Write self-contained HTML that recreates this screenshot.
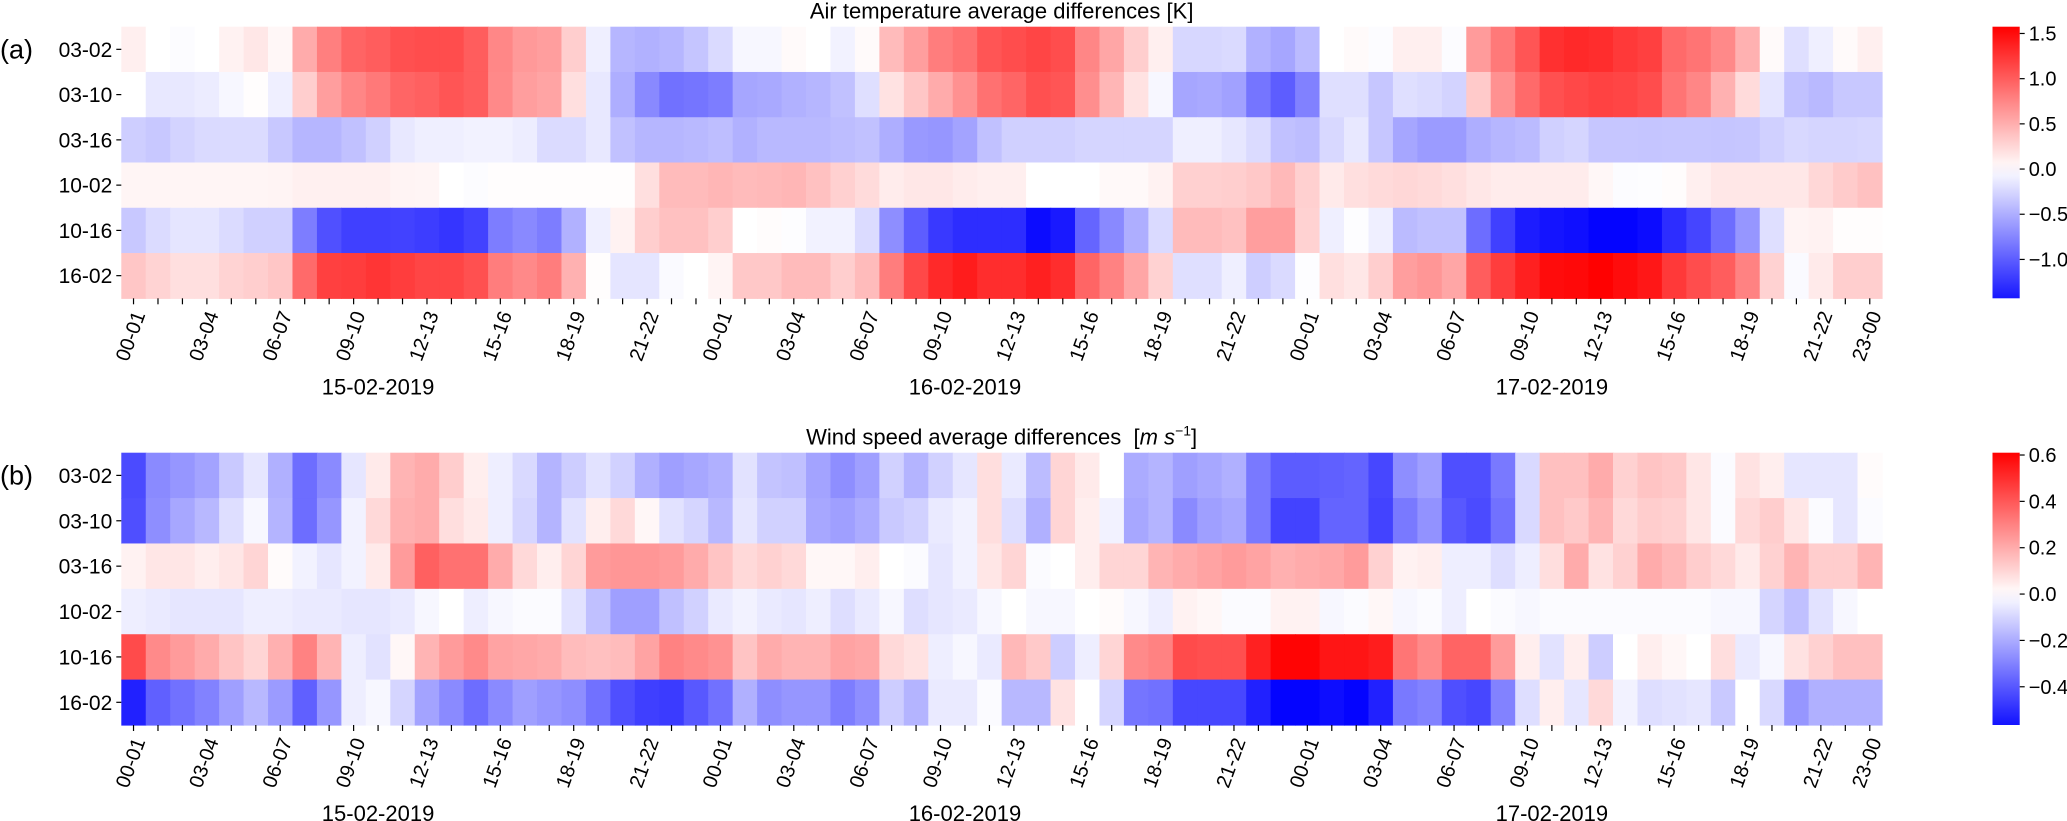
<!DOCTYPE html>
<html><head><meta charset="utf-8"><style>
html,body{margin:0;padding:0;background:#fff;}
svg{display:block;font-family:"Liberation Sans",Arial,sans-serif;}
</style></head><body>
<svg id="chart" width="2067" height="821" viewBox="0 0 2067 821" xmlns="http://www.w3.org/2000/svg">
<defs>
<linearGradient id="gradA" x1="0" y1="1" x2="0" y2="0"></linearGradient>
<linearGradient id="gradB" x1="0" y1="1" x2="0" y2="0"></linearGradient>
</defs>
</svg>
<script>
const rowLabels = ["03-02","03-10","03-16","10-02","10-16","16-02"];
const dayLabels = ["15-02-2019","16-02-2019","17-02-2019"];
const tickColsMajor = [0,3,6,9,12,15,18,21,24,27,30,33,36,39,42,45,48,51,54,57,60,63,66,69,71];
const tempTicks = [1.5,1.0,0.5,0.0,-0.5,-1.0];
const windTicks = [0.6,0.4,0.2,0.0,-0.2,-0.4];

const temp_0302 = [0.1,0,-0.02,0,0.08,0.15,0.05,0.52,0.79,0.96,1.0,1.08,1.1,1.1,1.0,0.74,0.63,0.6,0.3,-0.1,-0.45,-0.48,-0.45,-0.36,-0.23,-0.05,-0.05,0.03,0,-0.08,0.03,0.42,0.6,0.8,0.88,1.05,1.1,1.15,1.1,0.75,0.55,0.3,0.1,-0.25,-0.25,-0.23,-0.48,-0.55,-0.42,0,0.03,-0.02,0.1,0.1,-0.02,0.62,0.83,1.05,1.28,1.32,1.3,1.22,1.18,0.92,0.86,0.73,0.48,0.03,-0.2,-0.1,0.03,0.1];
const temp_0310 = [0,-0.14,-0.14,-0.12,-0.05,0.01,-0.1,0.3,0.6,0.75,0.83,0.95,0.98,1.05,1.0,0.73,0.6,0.56,0.2,-0.14,-0.5,-0.73,-0.88,-0.85,-0.8,-0.55,-0.53,-0.48,-0.45,-0.38,-0.2,0.18,0.35,0.52,0.68,0.88,0.95,1.08,1.05,0.7,0.45,0.18,-0.05,-0.55,-0.53,-0.58,-0.85,-1.0,-0.78,-0.2,-0.2,-0.35,-0.2,-0.22,-0.27,0.33,0.68,0.92,1.08,1.13,1.17,1.15,1.1,0.86,0.75,0.48,0.22,-0.16,-0.38,-0.43,-0.34,-0.34];
const temp_0316 = [-0.3,-0.34,-0.27,-0.23,-0.22,-0.22,-0.34,-0.45,-0.45,-0.38,-0.29,-0.14,-0.1,-0.1,-0.08,-0.08,-0.11,-0.22,-0.22,-0.14,-0.38,-0.45,-0.45,-0.43,-0.4,-0.48,-0.43,-0.43,-0.43,-0.41,-0.38,-0.5,-0.63,-0.65,-0.57,-0.38,-0.29,-0.29,-0.29,-0.26,-0.26,-0.26,-0.26,-0.1,-0.1,-0.15,-0.22,-0.38,-0.41,-0.24,-0.14,-0.35,-0.55,-0.62,-0.62,-0.5,-0.45,-0.42,-0.29,-0.26,-0.35,-0.35,-0.36,-0.35,-0.35,-0.36,-0.35,-0.29,-0.24,-0.26,-0.26,-0.25];
const temp_1002 = [0.06,0.06,0.06,0.06,0.06,0.06,0.07,0.09,0.09,0.09,0.09,0.07,0.06,0,-0.02,0.01,0.01,0.01,0.01,0.01,0.01,0.2,0.42,0.42,0.45,0.42,0.43,0.45,0.38,0.29,0.22,0.12,0.15,0.15,0.12,0.1,0.1,0,0,0,0.04,0.04,0.08,0.29,0.29,0.3,0.34,0.43,0.29,0.13,0.2,0.23,0.25,0.23,0.2,0.15,0.12,0.12,0.12,0.12,0.05,-0.02,-0.01,0.02,0.1,0.15,0.15,0.15,0.15,0.25,0.32,0.38];
const temp_1016 = [-0.34,-0.22,-0.16,-0.16,-0.22,-0.29,-0.29,-0.8,-1.08,-1.18,-1.18,-1.17,-1.2,-1.25,-1.17,-0.8,-0.73,-0.8,-0.48,-0.1,0.08,0.3,0.38,0.38,0.3,0,0.02,-0.01,-0.08,-0.08,-0.22,-0.7,-1.0,-1.22,-1.3,-1.3,-1.3,-1.5,-1.42,-0.95,-0.73,-0.5,-0.23,0.42,0.42,0.38,0.6,0.6,0.28,-0.1,-0.01,-0.1,-0.42,-0.38,-0.38,-0.9,-1.18,-1.4,-1.45,-1.48,-1.55,-1.55,-1.5,-1.3,-1.15,-0.9,-0.65,-0.2,0.07,0.08,0.01,0.01];
const temp_1602 = [0.35,0.27,0.2,0.2,0.27,0.3,0.35,0.92,1.18,1.2,1.25,1.2,1.15,1.15,1.08,0.8,0.73,0.8,0.48,0.01,-0.16,-0.16,-0.03,0,0.07,0.34,0.34,0.42,0.42,0.3,0.42,0.8,1.13,1.32,1.4,1.3,1.3,1.38,1.3,0.95,0.77,0.55,0.28,-0.2,-0.2,-0.1,-0.3,-0.23,-0.01,0.2,0.15,0.3,0.6,0.65,0.55,1.0,1.2,1.38,1.5,1.52,1.57,1.5,1.43,1.22,1.1,1.0,0.77,0.28,-0.03,0.13,0.3,0.3];

const wind_0302 = [-0.43,-0.28,-0.25,-0.22,-0.13,-0.06,-0.19,-0.35,-0.28,-0.06,0.05,0.18,0.2,0.12,0.04,-0.04,-0.09,-0.18,-0.12,-0.07,-0.11,-0.19,-0.23,-0.21,-0.19,-0.07,-0.14,-0.15,-0.22,-0.27,-0.23,-0.11,-0.18,-0.11,-0.06,0.08,-0.05,-0.16,0.1,0.05,0,-0.2,-0.18,-0.23,-0.21,-0.19,-0.32,-0.39,-0.39,-0.38,-0.37,-0.44,-0.27,-0.23,-0.42,-0.42,-0.32,-0.09,0.15,0.15,0.2,0.11,0.14,0.13,0.06,-0.01,0.07,0.04,-0.06,-0.06,-0.06,0.01];
const wind_0310 = [-0.42,-0.27,-0.21,-0.17,-0.08,-0.02,-0.18,-0.35,-0.25,-0.03,0.09,0.19,0.2,0.08,0.05,-0.04,-0.1,-0.18,-0.07,0.04,0.09,0.02,-0.07,-0.1,-0.17,-0.06,-0.11,-0.11,-0.21,-0.23,-0.2,-0.13,-0.11,-0.05,-0.03,0.08,-0.08,-0.19,0.1,0.04,-0.03,-0.21,-0.18,-0.28,-0.23,-0.21,-0.32,-0.45,-0.45,-0.37,-0.37,-0.45,-0.32,-0.26,-0.4,-0.43,-0.34,-0.09,0.15,0.13,0.18,0.09,0.12,0.11,0.06,-0.01,0.09,0.12,0.06,-0.01,-0.06,-0.01];
const wind_0316 = [0.03,0.06,0.06,0.04,0.06,0.1,0.01,-0.03,-0.06,-0.03,0.05,0.24,0.38,0.34,0.34,0.2,0.09,0.04,0.1,0.24,0.25,0.25,0.24,0.2,0.14,0.09,0.11,0.09,0.02,0.02,0.04,0,-0.01,-0.06,-0.03,0.06,0.1,-0.01,0,0.04,0.1,0.1,0.18,0.2,0.22,0.24,0.22,0.19,0.2,0.21,0.24,0.11,0.03,0.04,-0.04,-0.04,-0.08,-0.04,0.08,0.2,0.07,0.11,0.2,0.17,0.12,0.09,0.05,0.11,0.18,0.12,0.12,0.18];
const wind_1002 = [-0.04,-0.05,-0.06,-0.06,-0.06,-0.04,-0.04,-0.05,-0.05,-0.06,-0.06,-0.05,-0.02,0,-0.04,-0.02,-0.01,-0.01,-0.07,-0.15,-0.23,-0.23,-0.15,-0.11,-0.05,-0.03,-0.05,-0.06,-0.04,-0.08,-0.05,-0.02,-0.08,-0.06,-0.05,-0.02,0,-0.02,-0.02,0,0.01,-0.02,-0.04,0.03,0.02,-0.01,-0.01,0.03,0.03,-0.02,-0.01,0.02,-0.02,-0.01,-0.04,0,-0.01,-0.02,-0.01,-0.01,-0.01,-0.01,-0.01,-0.01,-0.01,-0.02,-0.02,-0.1,-0.15,-0.07,-0.02,0];
const wind_1016 = [0.43,0.28,0.24,0.2,0.14,0.1,0.19,0.3,0.18,-0.04,-0.07,0.02,0.18,0.24,0.28,0.22,0.21,0.2,0.16,0.15,0.16,0.22,0.3,0.28,0.26,0.14,0.2,0.18,0.18,0.22,0.21,0.09,0.07,-0.04,-0.02,-0.05,0.17,0.13,-0.12,-0.04,0.1,0.28,0.3,0.43,0.42,0.42,0.53,0.6,0.6,0.56,0.56,0.54,0.33,0.28,0.37,0.37,0.24,0.04,-0.07,0.04,-0.12,0,0.04,0.02,0,0.08,-0.05,-0.02,0.07,0.11,0.15,0.15];
const wind_1602 = [-0.53,-0.38,-0.34,-0.3,-0.23,-0.17,-0.24,-0.38,-0.25,-0.04,-0.02,-0.1,-0.22,-0.28,-0.35,-0.28,-0.23,-0.25,-0.27,-0.34,-0.42,-0.46,-0.47,-0.4,-0.34,-0.19,-0.27,-0.25,-0.25,-0.31,-0.27,-0.12,-0.18,-0.05,-0.05,-0.01,-0.17,-0.17,0.07,0,-0.1,-0.33,-0.34,-0.44,-0.44,-0.44,-0.53,-0.6,-0.6,-0.58,-0.6,-0.53,-0.32,-0.3,-0.42,-0.44,-0.3,-0.08,0.04,-0.06,0.09,-0.03,-0.08,-0.07,-0.06,-0.13,0,-0.09,-0.25,-0.19,-0.19,-0.19];

const tempRows = [temp_0302,temp_0310,temp_0316,temp_1002,temp_1016,temp_1602];
const windRows = [wind_0302,wind_0310,wind_0316,wind_1002,wind_1016,wind_1602];

const NS = "http://www.w3.org/2000/svg";
const svg = document.getElementById('chart');
function mk(tag, attrs, parent){ const e=document.createElementNS(NS,tag); for(const k in attrs) e.setAttribute(k,attrs[k]); (parent||svg).appendChild(e); return e; }
function bwr(t){ t=Math.max(0,Math.min(1,t)); let r,g,b; if(t<0.5){const s=t*2; r=s; g=s; b=1;} else {const s=(1-t)*2; r=1; g=s; b=s;} return `rgb(${Math.round(r*255)},${Math.round(g*255)},${Math.round(b*255)})`; }

const X0 = 121.3, X1 = 1882, NC = 72;
const colW = (X1-X0)/NC;
function xCol(i){ return X0 + i*colW; }
function pad(n){ return (n<10?'0':'')+n; }

function panel(cfg){
  const g = mk('g',{});
  
  
  const top=cfg.top, bot=cfg.bot, rh=(bot-top)/6;
  const yRow = r => top + r*rh;
  // title
  const t = mk('text',{x:(X0+X1)/2, y:top-8, 'font-size':22, 'text-anchor':'middle', fill:'#000'}, g);
  
  
  t.innerHTML = cfg.title;
  // panel letter
  const pl = mk('text',{x:0, y:yRow(0)+rh/2+9, 'font-size':27, fill:'#000'}, g);
  
  
  pl.textContent = cfg.letter;
  // cells
  const cells = mk('g',{}, g);
  
  
  cfg.rows.forEach((row, r)=>{
    row.forEach((v, c)=>{
      const rect = mk('rect',{x:xCol(c).toFixed(2), y:yRow(r).toFixed(2), width:(colW+0.6).toFixed(2), height:(rh+0.6).toFixed(2), fill:bwr((v+cfg.V)/(2*cfg.V))}, cells);
      
      
    });
  });
  // row labels & ticks
  rowLabels.forEach((lab, r)=>{
    const cy = yRow(r)+rh/2;
    const tk = mk('line',{x1:X0-5, x2:X0, y1:cy, y2:cy, stroke:'#000','stroke-width':1.2}, g);
    
    
    const tx = mk('text',{x:X0-9, y:cy+7.5, 'font-size':21, 'text-anchor':'end', fill:'#000'}, g);
    
    
    tx.textContent = lab;
  });
  // x ticks (every column)
  for(let c=0;c<NC;c++){
    const cx = xCol(c)+colW/2;
    const tk = mk('line',{x1:cx, x2:cx, y1:bot, y2:bot+6, stroke:'#000','stroke-width':1.2}, g);
    
    
  }
  tickColsMajor.forEach(c=>{
    const cx = xCol(c)+colW/2;
    const h = c%24;
    const ex = cx+12, ey = bot+16;
    const tx = mk('text',{x:ex, y:ey, 'font-size':20, 'text-anchor':'end', fill:'#000', transform:`rotate(-70 ${ex} ${ey})`}, g);
    
    
    tx.textContent = pad(h)+'-'+pad((h+1)%24);
  });
  // day labels
  dayLabels.forEach((d,i)=>{
    const cx = xCol(10.5+24*i);
    const tx = mk('text',{x:cx, y:bot+96, 'font-size':22, 'text-anchor':'middle', fill:'#000'}, g);
    
    
    tx.textContent = d;
  });
  // colorbar
  const cbx0=1992.5, cbx1=2019.7;
  const grad = document.getElementById(cfg.grad);
  for(let k=0;k<=20;k++){
    const v = cfg.vmin + (cfg.vmax-cfg.vmin)*k/20;
    mk('stop',{offset:(k/20), 'stop-color':bwr((v+cfg.V)/(2*cfg.V))}, grad);
  }
  const cb = mk('rect',{x:cbx0, y:top, width:cbx1-cbx0, height:bot-top, fill:`url(#${cfg.grad})`}, g);
  
  
  const yv = v => bot - (v-cfg.vmin)/(cfg.vmax-cfg.vmin)*(bot-top);
  cfg.ticks.forEach(v=>{
    const y = yv(v);
    const tk = mk('line',{x1:cbx1, x2:cbx1+5, y1:y, y2:y, stroke:'#000','stroke-width':1.2}, g);
    
    
    const tx = mk('text',{x:cbx1+9, y:y+7, 'font-size':20, fill:'#000'}, g);
    
    
    tx.textContent = (v<0?'\u2212':'') + Math.abs(v).toFixed(1);
  });
}

panel({name:'air-temperature-panel', title:'Air temperature average differences [K]', letter:'(a)', top:26.7, bot:298.3, rows:tempRows, V:1.575, vmin:-1.43, vmax:1.575, ticks:tempTicks, grad:'gradA'});
panel({name:'wind-speed-panel', title:'Wind speed average differences&#160;&#160;[<tspan font-style="italic">m s</tspan><tspan font-size="14" dy="-9">\u22121</tspan><tspan dy="9">]</tspan>', letter:'(b)', top:452.7, bot:725, rows:windRows, V:0.61, vmin:-0.565, vmax:0.61, ticks:windTicks, grad:'gradB'});
</script>
</body></html>
